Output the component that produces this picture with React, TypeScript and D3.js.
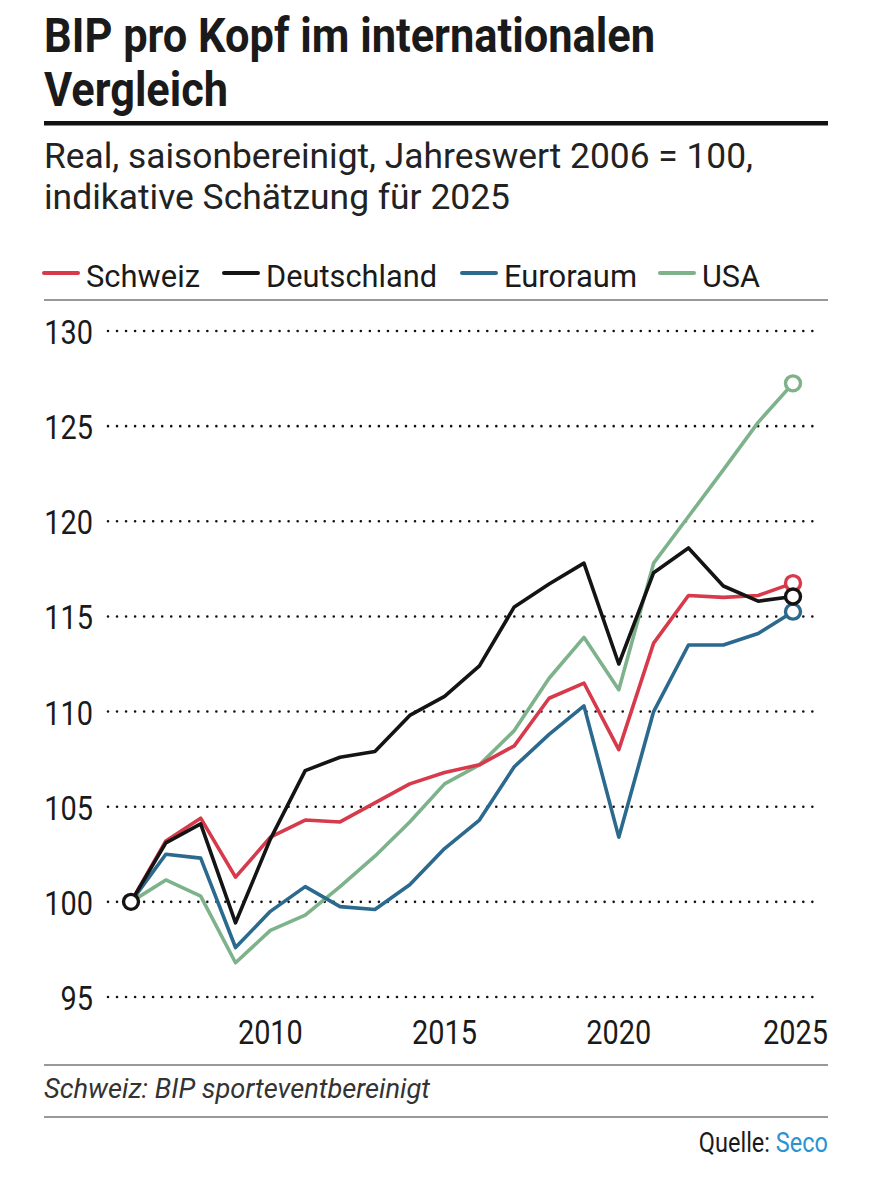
import React from 'react';
import * as d3 from 'd3';

// Jahre und Werte (2006 = 100)
const years = d3.range(2006, 2026);
const schweiz = [100, 103.2, 104.4, 101.3, 103.4, 104.3, 104.2, 105.2, 106.2, 106.8, 107.2, 108.2, 110.7, 111.5, 108.0, 113.6, 116.1, 116.0, 116.1, 116.75];
const deutschland = [100, 103.1, 104.1, 98.9, 103.3, 106.9, 107.6, 107.9, 109.8, 110.8, 112.4, 115.5, 116.7, 117.8, 112.5, 117.3, 118.6, 116.6, 115.8, 116.05];
const euroraum = [100, 102.5, 102.3, 97.6, 99.5, 100.8, 99.75, 99.6, 100.9, 102.8, 104.3, 107.1, 108.8, 110.3, 103.4, 110.0, 113.5, 113.5, 114.1, 115.25];
const usa = [100, 101.15, 100.3, 96.8, 98.5, 99.3, 100.8, 102.4, 104.2, 106.2, 107.2, 109.0, 111.75, 113.9, 111.15, 117.8, 120.25, 122.7, 125.2, 127.25];

const seriesNames = ['Schweiz', 'Deutschland', 'Euroraum', 'USA'];
const seriesColors = ['#d63a4b', '#141414', '#2b6a8e', '#7db28b'];
const seriesValues = [schweiz, deutschland, euroraum, usa];

const yTicks = [95, 100, 105, 110, 115, 120, 125, 130];
const xTicks = [2010, 2015, 2020, 2025];

const FONT = 'Roboto, "Noto Sans", sans-serif';

// schmale Schrift nachahmen: horizontal gestauchter Text
const CText: React.FC<{
  x: number; y: number; size: number; sx?: number; weight?: number | string;
  anchor?: 'start' | 'middle' | 'end'; fill?: string; italic?: boolean; len?: number;
  children: React.ReactNode;
}> = ({ x, y, size, sx = 0.84, weight = 400, anchor = 'start', fill = '#1a1a1a', italic, len, children }) => (
  <text
    transform={`translate(${x},${y}) scale(${len ? 1 : sx},1)`}
    fontSize={size}
    fontWeight={weight}
    fontFamily={FONT}
    fontStyle={italic ? 'italic' : 'normal'}
    textAnchor={anchor}
    fill={fill}
    textLength={len}
    lengthAdjust={len ? 'spacingAndGlyphs' : undefined}
  >
    {children}
  </text>
);

export default function App() {
  const width = 871;
  const height = 1200;

  const x = d3.scaleLinear().domain([2006, 2025]).range([131, 793]);
  const y = d3.scaleLinear().domain([95, 130]).range([997, 331]);

  const line = d3.line<number>()
    .x((_, i) => x(years[i]))
    .y(d => y(d));

  // Zeichenreihenfolge: USA, Euroraum, Schweiz, Deutschland oben
  const order = [3, 2, 0, 1];

  const legendItems = [
    { sw: 44, tx: 86, w: 114 },
    { sw: 224, tx: 266, w: 171 },
    { sw: 462, tx: 504, w: 133 },
    { sw: 660, tx: 702, w: 58 },
  ];

  return (
    <svg width={width} height={height} style={{ position: 'absolute', left: 0, top: 0, background: '#fff' }}>
      {/* Titel */}
      <CText x={44} y={52} size={48} weight={700} len={611}>BIP pro Kopf im internationalen</CText>
      <CText x={44} y={106} size={48} weight={700} len={184}>Vergleich</CText>
      <rect x={44} y={121} width={784} height={4.5} fill="#111" />

      {/* Untertitel */}
      <CText x={44} y={168} size={35} len={709} fill="#222">Real, saisonbereinigt, Jahreswert 2006 = 100,</CText>
      <CText x={44} y={209} size={35} len={466} fill="#222">indikative Schätzung für 2025</CText>

      {/* Legende */}
      {seriesNames.map((name, i) => (
        <g key={name}>
          <line x1={legendItems[i].sw} x2={legendItems[i].sw + 34} y1={273} y2={273}
            stroke={seriesColors[i]} strokeWidth={4} strokeLinecap="round" />
          <CText x={legendItems[i].tx} y={287} size={31} len={legendItems[i].w}>{name}</CText>
        </g>
      ))}
      <line x1={44} x2={828} y1={300} y2={300} stroke="#999" strokeWidth={2} />

      {/* Gitter und y-Achse */}
      {yTicks.map(t => (
        <g key={t}>
          <line x1={108} x2={819} y1={y(t)} y2={y(t)} stroke="#111" strokeWidth={2.6}
            strokeDasharray="0 9.03" strokeLinecap="round" />
          <CText x={93} y={y(t) + 13} size={34} sx={0.85} anchor="end">{t}</CText>
        </g>
      ))}

      {/* x-Achse */}
      {xTicks.map(t => (
        <CText key={t} x={t === 2025 ? 828 : x(t)} y={1044} size={34} sx={0.85}
          anchor={t === 2025 ? 'end' : 'middle'}>{t}</CText>
      ))}

      {/* Linien */}
      {order.map(i => (
        <path key={seriesNames[i]} d={line(seriesValues[i]) || ''} fill="none"
          stroke={seriesColors[i]} strokeWidth={3.6} strokeLinejoin="round" />
      ))}

      {/* Endpunkte */}
      {order.map(i => (
        <circle key={'e' + i} cx={x(2025)} cy={y(seriesValues[i][19])} r={7.5}
          fill="#fff" stroke={seriesColors[i]} strokeWidth={3.4} />
      ))}
      <circle cx={x(2006)} cy={y(100)} r={7.5} fill="#fff" stroke={seriesColors[1]} strokeWidth={3.4} />

      {/* Fussnote */}
      <line x1={44} x2={828} y1={1065} y2={1065} stroke="#999" strokeWidth={2} />
      <CText x={44} y={1098} size={27} italic len={386} fill="#333">Schweiz: BIP sporteventbereinigt</CText>
      <line x1={44} x2={828} y1={1117} y2={1117} stroke="#999" strokeWidth={2} />
      <text transform="translate(828,1152) scale(0.84,1)" fontSize={28} fontFamily={FONT} textAnchor="end" fill="#1a1a1a">
        Quelle: <tspan fill="#2a93d0">Seco</tspan>
      </text>
    </svg>
  );
}
